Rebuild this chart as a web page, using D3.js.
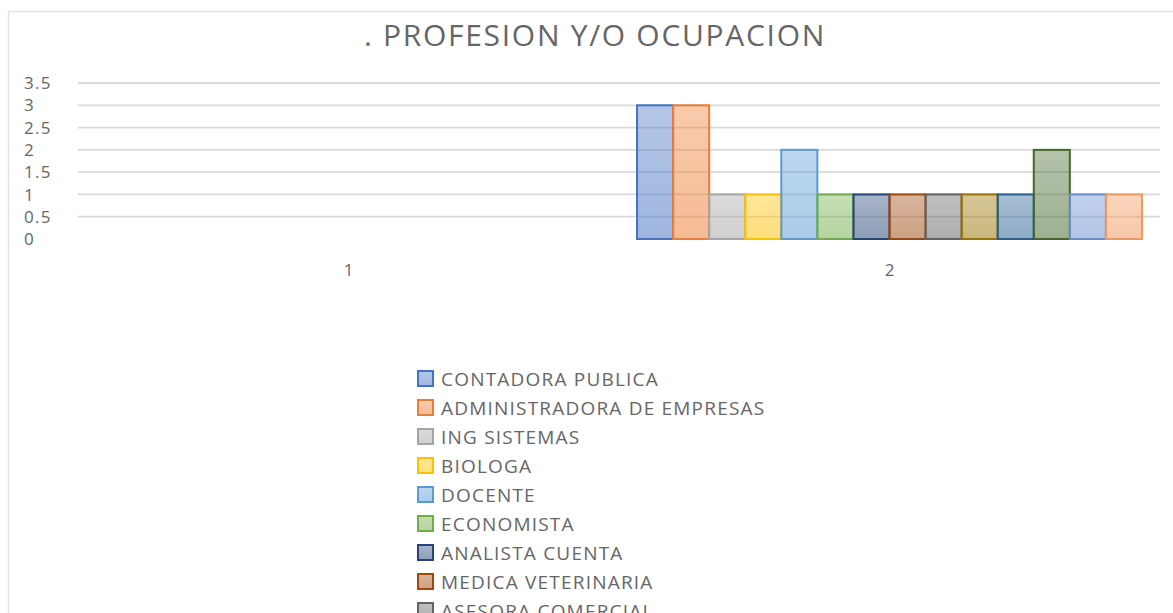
<!DOCTYPE html>
<html>
<head>
<meta charset="utf-8">
<script src="https://cdn.jsdelivr.net/npm/d3@7"></script>
<style>
  html, body { margin: 0; padding: 0; background: #fff; overflow: hidden; }
  svg { display: block; font-family: "Open Sans", sans-serif; }
</style>
</head>
<body>
<div id="chart"></div>
<script>
"use strict";

// chart data
var categories = ["1", "2"];
var seriesNames = [
    "CONTADORA PUBLICA", "ADMINISTRADORA DE EMPRESAS", "ING SISTEMAS", "BIOLOGA",
    "DOCENTE", "ECONOMISTA", "ANALISTA CUENTA", "MEDICA VETERINARIA",
    "ASESORA COMERCIAL", "SERIE 10", "SERIE 11", "SERIE 12", "SERIE 13", "SERIE 14"
];
// value for category "1" is empty, value for category "2"
var cat1Values = [null, null, null, null, null, null, null, null, null, null, null, null, null, null];
var cat2Values = [3, 3, 1, 1, 2, 1, 1, 1, 1, 1, 1, 2, 1, 1];
var yTicks = [0, 0.5, 1, 1.5, 2, 2.5, 3, 3.5];
var seriesColors = [
    "#4472C4", "#ED7D31", "#A5A5A5", "#FFC000", "#5B9BD5", "#70AD47",
    "#264478", "#9E480E", "#636363", "#997300", "#255E91", "#43682B",
    "#698ED0", "#F1975A"
];

var width = 1173, height = 613;
var plot = { left: 78, right: 1160, top: 83, bottom: 239 };

var svg = d3.select("#chart").append("svg")
    .attr("width", width)
    .attr("height", height);

// chart frame
svg.append("rect")
    .attr("x", 8.5).attr("y", 11.5)
    .attr("width", width + 20).attr("height", height + 20)
    .attr("fill", "#fff")
    .attr("stroke", "#e3e3e3")
    .attr("stroke-width", 1.5);

// gradients for each series
var defs = svg.append("defs");
seriesColors.forEach(function (c, i) {
    var g = defs.append("linearGradient")
        .attr("id", "grad" + i)
        .attr("x1", 0).attr("y1", 0).attr("x2", 0).attr("y2", 1);
    g.append("stop").attr("offset", "0%").attr("stop-color", c).attr("stop-opacity", 0.4);
    g.append("stop").attr("offset", "100%").attr("stop-color", c).attr("stop-opacity", 0.52);
});

// title
svg.append("text")
    .attr("x", 595).attr("y", 46)
    .attr("text-anchor", "middle")
    .attr("fill", "#666")
    .style("font-size", "30px")
    .style("letter-spacing", "1.7px")
    .text(". PROFESION Y/O OCUPACION");

// scales
var yScale = d3.scaleLinear()
    .domain([0, 3.5])
    .range([plot.bottom, plot.top]);

var xScale = d3.scaleBand()
    .domain(categories)
    .range([plot.left, plot.right]);

var xInner = d3.scaleBand()
    .domain(seriesNames)
    .range([0, xScale.bandwidth()])
    .paddingOuter(0.5);

// gridlines (no line at zero)
svg.append("g").selectAll("line")
    .data(yTicks.filter(function (t) { return t > 0; }))
    .enter().append("line")
    .attr("x1", plot.left).attr("x2", plot.right)
    .attr("y1", function (d) { return yScale(d); })
    .attr("y2", function (d) { return yScale(d); })
    .attr("stroke", "#d9d9d9")
    .attr("stroke-width", 1.8);

// y tick labels
svg.append("g").selectAll("text")
    .data(yTicks)
    .enter().append("text")
    .attr("x", 24)
    .attr("y", function (d) { return yScale(d); })
    .attr("dy", "0.36em")
    .attr("fill", "#666")
    .style("font-size", "17px")
    .style("letter-spacing", "1.3px")
    .text(function (d) { return d; });

// category labels
svg.append("g").selectAll("text")
    .data(categories)
    .enter().append("text")
    .attr("x", function (d) { return xScale(d) + xScale.bandwidth() / 2; })
    .attr("y", 270)
    .attr("dy", "0.36em")
    .attr("text-anchor", "middle")
    .attr("fill", "#666")
    .style("font-size", "17px")
    .text(function (d) { return d; });

// bars
var barData = [];
seriesNames.forEach(function (name, i) {
    [cat1Values[i], cat2Values[i]].forEach(function (v, j) {
        if (v != null) {
            barData.push({ series: name, index: i, category: categories[j], value: v });
        }
    });
});

svg.append("g").selectAll("rect")
    .data(barData)
    .enter().append("rect")
    .attr("x", function (d) { return xScale(d.category) + xInner(d.series); })
    .attr("y", function (d) { return yScale(d.value); })
    .attr("width", xInner.bandwidth())
    .attr("height", function (d) { return yScale(0) - yScale(d.value); })
    .attr("fill", function (d) { return "url(#grad" + d.index + ")"; })
    .attr("stroke", function (d) { return seriesColors[d.index]; })
    .attr("stroke-width", 2);

// legend
var legend = svg.append("g")
    .selectAll("g")
    .data(seriesNames)
    .enter().append("g")
    .attr("transform", function (d, i) { return "translate(417," + (379 + i * 29) + ")"; });

legend.append("rect")
    .attr("x", 1).attr("y", -8)
    .attr("width", 15).attr("height", 15)
    .attr("fill", function (d, i) { return "url(#grad" + i + ")"; })
    .attr("stroke", function (d, i) { return seriesColors[i]; })
    .attr("stroke-width", 2);

legend.append("text")
    .attr("x", 24)
    .attr("y", 0)
    .attr("dy", "0.36em")
    .attr("fill", "#666")
    .style("font-size", "19px")
    .style("letter-spacing", "1.2px")
    .text(function (d) { return d; });
</script>
</body>
</html>
